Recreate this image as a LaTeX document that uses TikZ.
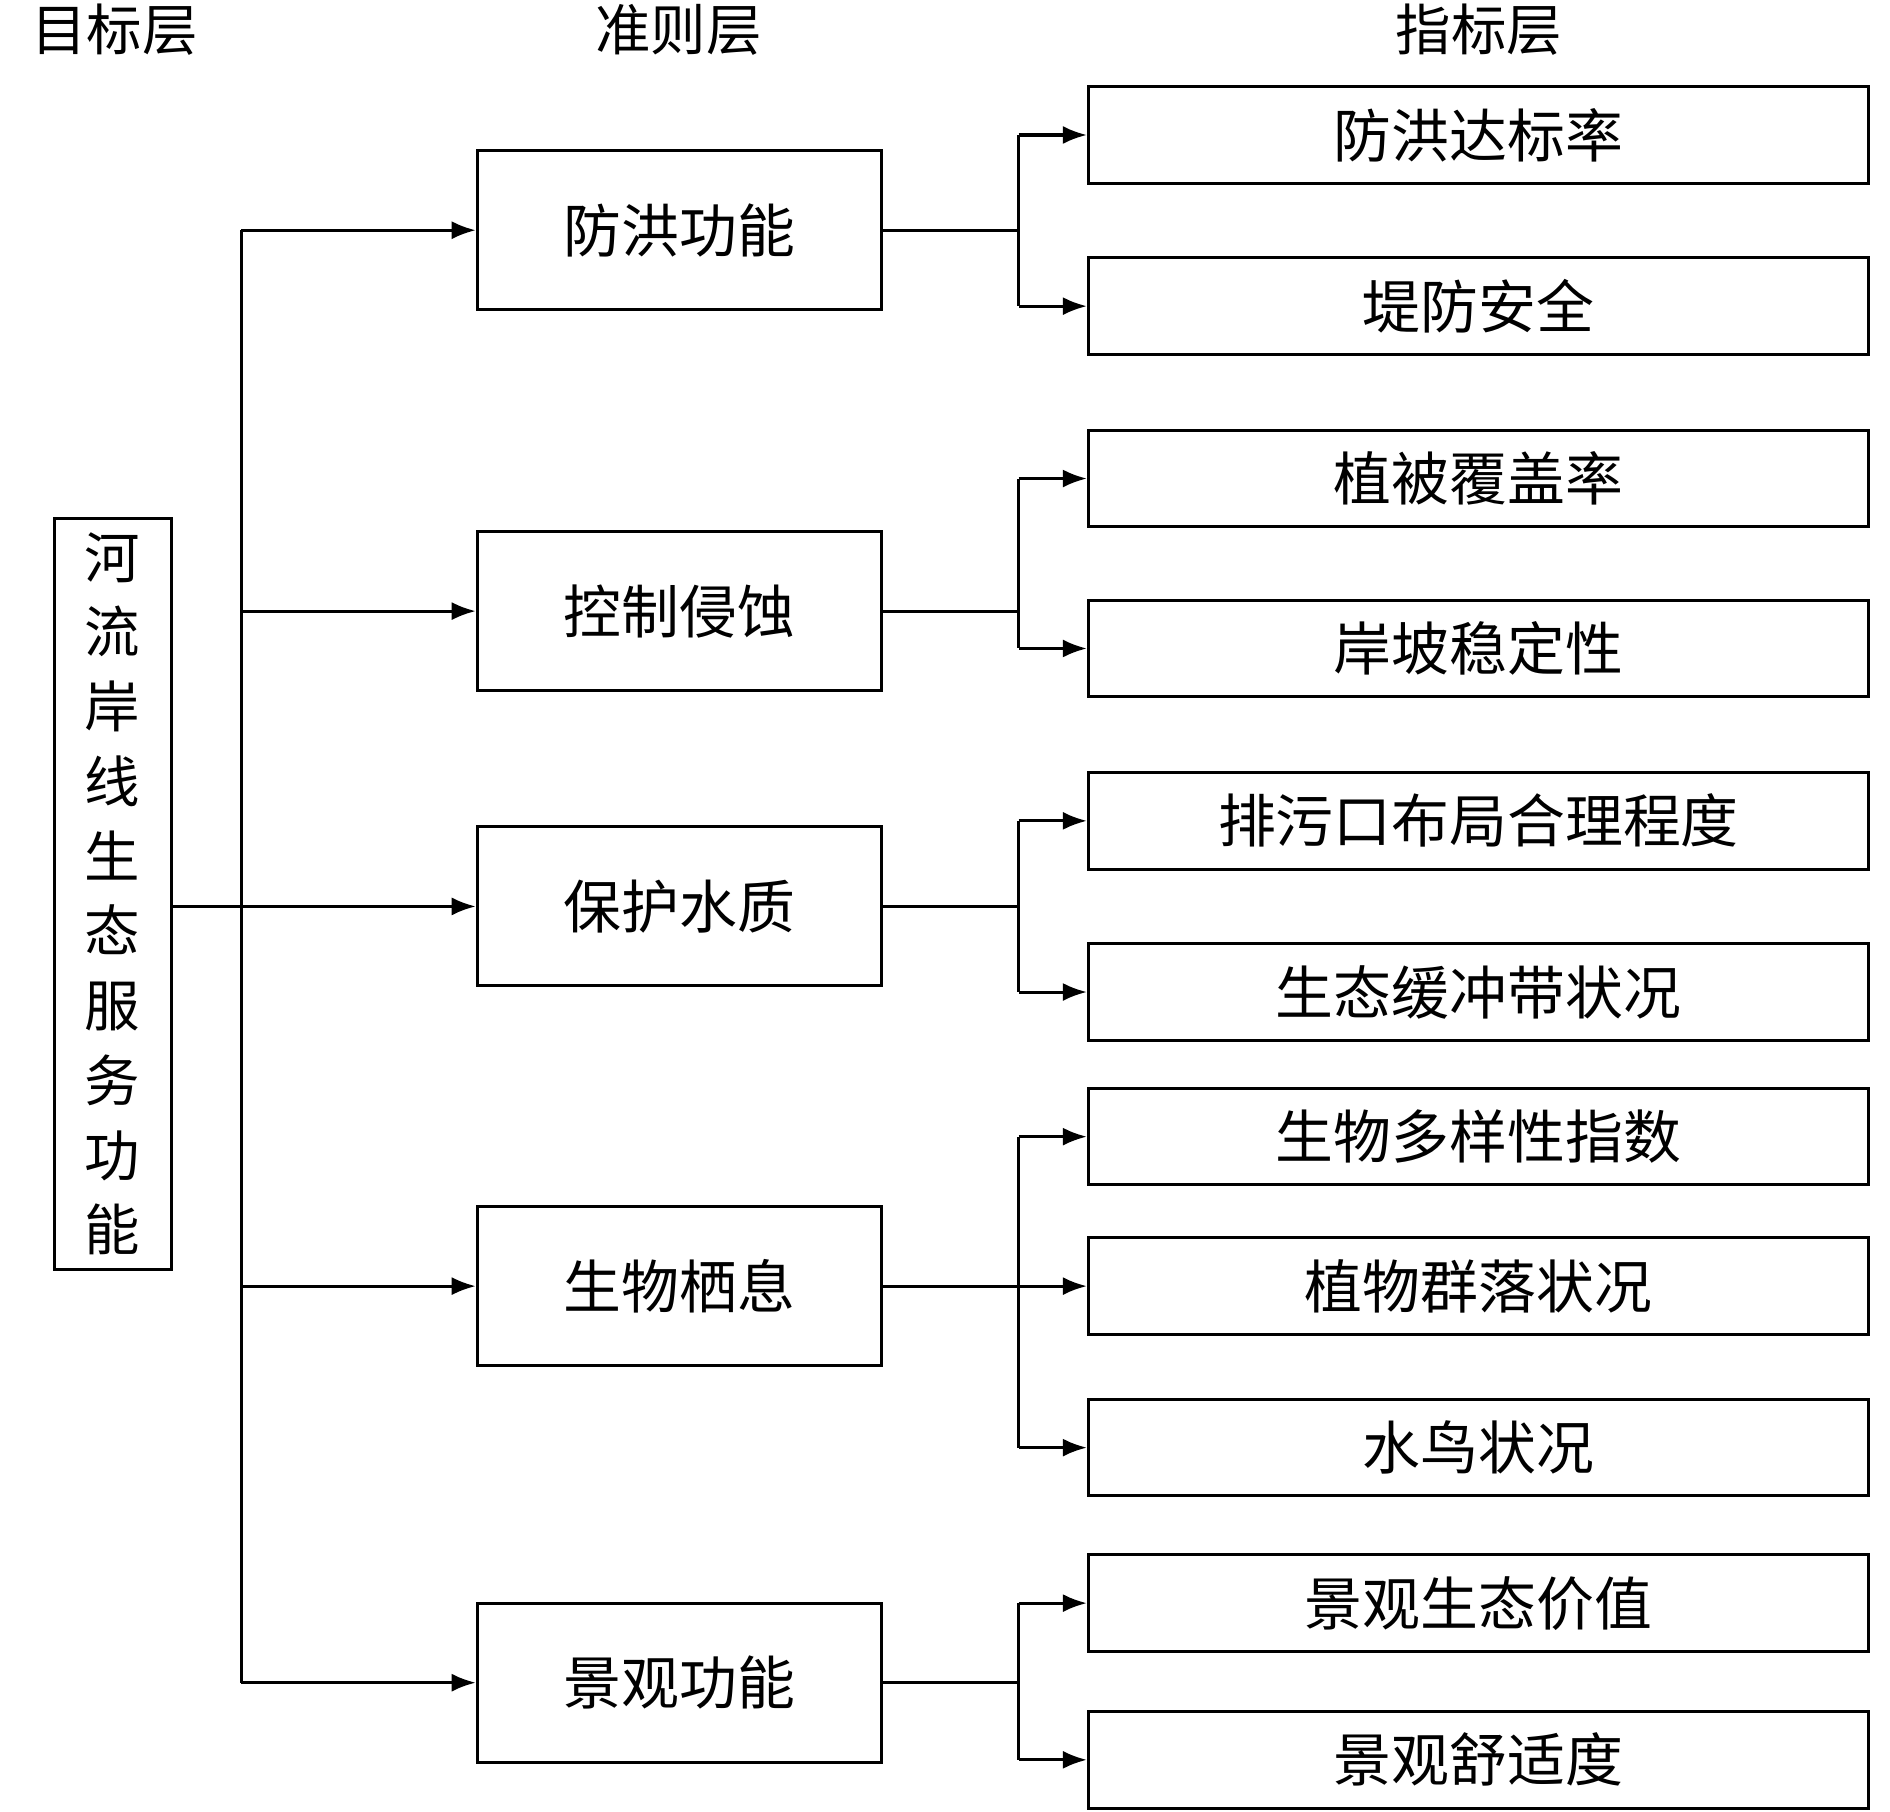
\documentclass[tikz,border=0pt]{standalone}
\usepackage{fontspec}
\setmainfont{Noto Sans CJK SC}
\usetikzlibrary{arrows.meta}
\begin{document}
\begin{tikzpicture}[x=1pt,y=-1pt,
  box/.style={draw,line width=2.5pt,minimum height=80pt,minimum width=647pt,inner sep=0pt,font=\fontsize{48}{48}\selectfont},
  mid/.style={draw,line width=2.5pt,minimum height=132pt,minimum width=335pt,inner sep=0pt,font=\fontsize{48}{48}\selectfont},
  hd/.style={font=\fontsize{46}{46}\selectfont},
  ln/.style={line width=2.5pt},
  ar/.style={line width=2.5pt,-{Latex[length=20pt,width=15pt]}}]
\useasboundingbox (0,0) rectangle (1568,1503);
\node[hd] (h1) at (95,25) {目标层};
\node[hd] (h2) at (563,25) {准则层};
\node[hd] (h3) at (1227,25) {指标层};
\node[draw,line width=2.5pt,minimum width=97pt,minimum height=623pt,inner sep=0pt,align=center,font=\fontsize{46}{62}\selectfont] (g) at (93.5,741.5) {河\\流\\岸\\线\\生\\态\\服\\务\\功\\能};
\node[mid] (m1) at (563.5,191) {防洪功能};
\node[mid] (m2) at (563.5,507) {控制侵蚀};
\node[mid] (m3) at (563.5,752) {保护水质};
\node[mid] (m4) at (563.5,1067) {生物栖息};
\node[mid] (m5) at (563.5,1396) {景观功能};
\foreach \n/\y/\t in {r1/112/防洪达标率,r2/254/堤防安全,r3/397/植被覆盖率,r4/538/岸坡稳定性,r5/681/排污口布局合理程度,r6/823/生态缓冲带状况,r7/943/生物多样性指数,r8/1067/植物群落状况,r9/1201/水鸟状况,r10/1330/景观生态价值,r11/1460/景观舒适度}
  \node[box] (\n) at (1226.5,\y) {\t};
\coordinate (t1) at (200,191);
\coordinate (t5) at (200,1396);
\draw[ln] (t1) -- (t5);
\draw[ln] (g.east|-m3) -- (200,752);
\foreach \m in {m1,m2,m3,m4,m5} \draw[ar] (200,0 |- \m) -- (\m.west);
\foreach \m/\a/\b in {m1/r1/r2,m2/r3/r4,m3/r5/r6,m4/r7/r9,m5/r10/r11}{
  \draw[ln] (\m.east) -- (845,0 |- \m);
  \draw[ln] (845,0 |- \a) -- (845,0 |- \b);
  \draw[ar] (845,0 |- \a) -- (\a.west);
  \draw[ar] (845,0 |- \b) -- (\b.west);
}
\draw[ar] (845,1067) -- (r8.west);
\end{tikzpicture}
\end{document}
